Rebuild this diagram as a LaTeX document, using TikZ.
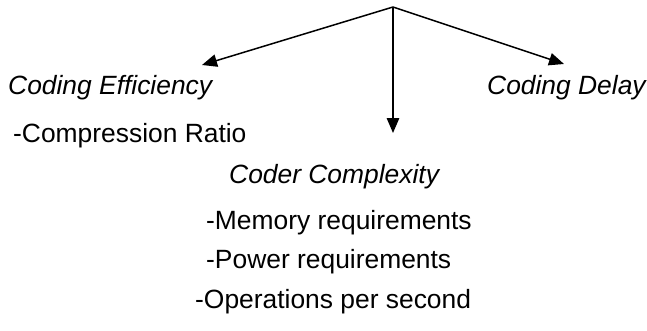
\documentclass[tikz,border=0pt]{standalone}
\usepackage{fontspec}
\setmainfont{Liberation Sans}
\usetikzlibrary{arrows.meta}
\tikzset{
  label/.style={anchor=base west, inner sep=0pt, font=\fontsize{26.4}{30}\selectfont},
  heading/.style={label, font=\fontsize{26.4}{30}\selectfont\itshape},
  branch/.style={line width=1.5pt, -{Triangle[length=15pt,width=12.5pt]}}
}
\begin{document}
\begin{tikzpicture}[x=1pt,y=1pt]
  \useasboundingbox (0,0) rectangle (647,330);
  % root of the three branches and their arrow ends
  \coordinate (root) at (393,323);
  \coordinate (effTip) at (202,265);
  \coordinate (cplxTip) at (393,197);
  \coordinate (delayTip) at (564,266);
  \draw[branch] (root) -- (effTip);
  \draw[branch] (root) -- (cplxTip);
  \draw[branch] (root) -- (delayTip);
  % criteria
  \node[heading] (eff) at (8,236) {Coding Efficiency};
  \node[label] (ratio) at (13,188) {-Compression Ratio};
  \node[heading] (delay) at (487,236) {Coding Delay};
  \node[heading] (cplx) at (229,147) {Coder Complexity};
  \node[label] (mem) at (206,101) {-Memory requirements};
  \node[label] (power) at (206,62) {-Power requirements};
  \node[label] (ops) at (195,22) {-Operations per second};
\end{tikzpicture}
\end{document}
